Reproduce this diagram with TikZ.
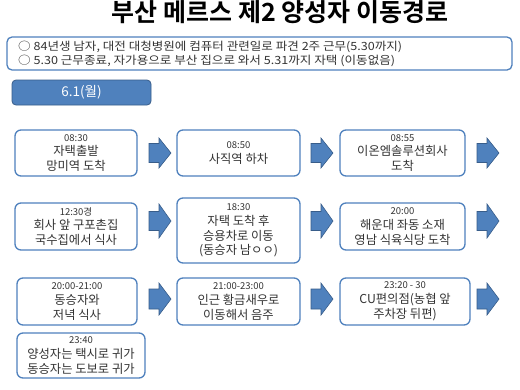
\documentclass[tikz,border=0pt]{standalone}
\usepackage{fontspec}
\usepackage{graphicx}
\setmainfont{Noto Sans CJK KR}
\newfontfamily\krbold{Noto Sans CJK KR Bold}
\definecolor{bxblue}{HTML}{4F81BD}
\definecolor{bxdark}{HTML}{385D8A}
\definecolor{txtgray}{HTML}{333333}
\tikzset{
  evbox/.style={draw=bxblue, line width=1.3pt, rounded corners=6pt, fill=white,
    align=center, text=txtgray, font=\fontsize{12.3}{14.8}\selectfont, inner sep=1pt},
  blockarrow/.style={draw=bxdark, line width=0.6pt, fill=bxblue, line join=miter},
  pics/barrow/.style args={#1/#2}{code={
    \draw[blockarrow] (-11,-#2) -- (-1,-#2) -- (-1,-#1) -- (11,0) -- (-1,#1) -- (-1,#2) -- (-11,#2) -- cycle;
  }}
}
\newcommand{\tmtxt}[1]{{\fontsize{9.5}{11}\selectfont #1}}
\begin{document}
\begin{tikzpicture}[x=1pt,y=-1pt]
\useasboundingbox (0,0) rectangle (520,389);
\fill[white] (0,0) rectangle (520,389);
\node[font=\krbold\fontsize{25}{28}\selectfont, text=black] (title) at (280,12.5) {부산 메르스 제2 양성자 이동경로};
\node[draw=bxblue, line width=1.3pt, rounded corners=5pt, minimum width=505pt, minimum height=33pt, inner sep=0pt] (info) at (259.5,53.5) {};
\node[anchor=west, inner sep=0pt, font=\fontsize{11.3}{14}\selectfont, text=txtgray] (infoa) at (18,47) {\resizebox{384pt}{\height}{○ 84년생 남자, 대전 대청병원에 컴퓨터 관련일로 파견 2주 근무(5.30까지)}};
\node[anchor=west, inner sep=0pt, font=\fontsize{11.3}{14}\selectfont, text=txtgray] (infob) at (18,61) {\resizebox{377pt}{\height}{○ 5.30 근무종료, 자가용으로 부산 집으로 와서 5.31까지 자택 (이동없음)}};
\node[draw=bxdark, line width=0.8pt, fill=bxblue, rounded corners=4pt, minimum width=139pt, minimum height=25pt, text=white, font=\fontsize{13.5}{15}\selectfont] (date) at (81.5,92.5) {6.1(월)};
% row 1
\node[evbox, minimum width=122pt, minimum height=46pt] (b1) at (76,153) {\tmtxt{08:30}\\자택출발\\망미역 도착};
\node[evbox, minimum width=123pt, minimum height=46pt] (b2) at (238.5,153) {\tmtxt{08:50}\\사직역 하차};
\node[evbox, minimum width=125pt, minimum height=46pt] (b3) at (402.5,153) {\tmtxt{08:55}\\이온엠솔루션회사\\도착};
% row 2
\node[evbox, minimum width=122pt, minimum height=47pt] (b4) at (76,226.5) {\tmtxt{12:30경}\\회사 앞 구포촌집\\국수집에서 식사};
\node[evbox, minimum width=123pt, minimum height=65pt] (b5) at (238.5,230.5) {\tmtxt{18:30}\\자택 도착 후\\승용차로 이동\\(동승자 남ㅇㅇ)};
\node[evbox, minimum width=125pt, minimum height=47pt] (b6) at (402.5,226.5) {\tmtxt{20:00}\\해운대 좌동 소재\\영남 식육식당 도착};
% row 3
\node[evbox, minimum width=120pt, minimum height=47pt] (b7) at (77,301.5) {\tmtxt{20:00-21:00}\\동승자와\\저녁 식사};
\node[evbox, minimum width=123pt, minimum height=47pt] (b8) at (238.5,301.5) {\tmtxt{21:00-23:00}\\인근 황금새우로\\이동해서 음주};
\node[evbox, minimum width=130pt, minimum height=47pt] (b9) at (405,301.5) {\tmtxt{23:20 - 30}\\CU편의점(농협 앞\\주차장 뒤편)};
% row 4
\node[evbox, minimum width=128pt, minimum height=45pt] (b10) at (81,355.5) {\tmtxt{23:40}\\양성자는 택시로 귀가\\동승자는 도보로 귀가};
% block arrows
\pic at (160,153) {barrow=15/9.5};
\pic at (322,153) {barrow=15/9.5};
\pic at (488,153) {barrow=15/9.5};
\pic at (160,221) {barrow=17/9.5};
\pic at (322,221) {barrow=17/9.5};
\pic at (488,221) {barrow=17/9.5};
\pic at (160,299) {barrow=16/10};
\pic at (322,299) {barrow=16/10};
\pic at (488,299) {barrow=16/10};
\end{tikzpicture}
\end{document}
